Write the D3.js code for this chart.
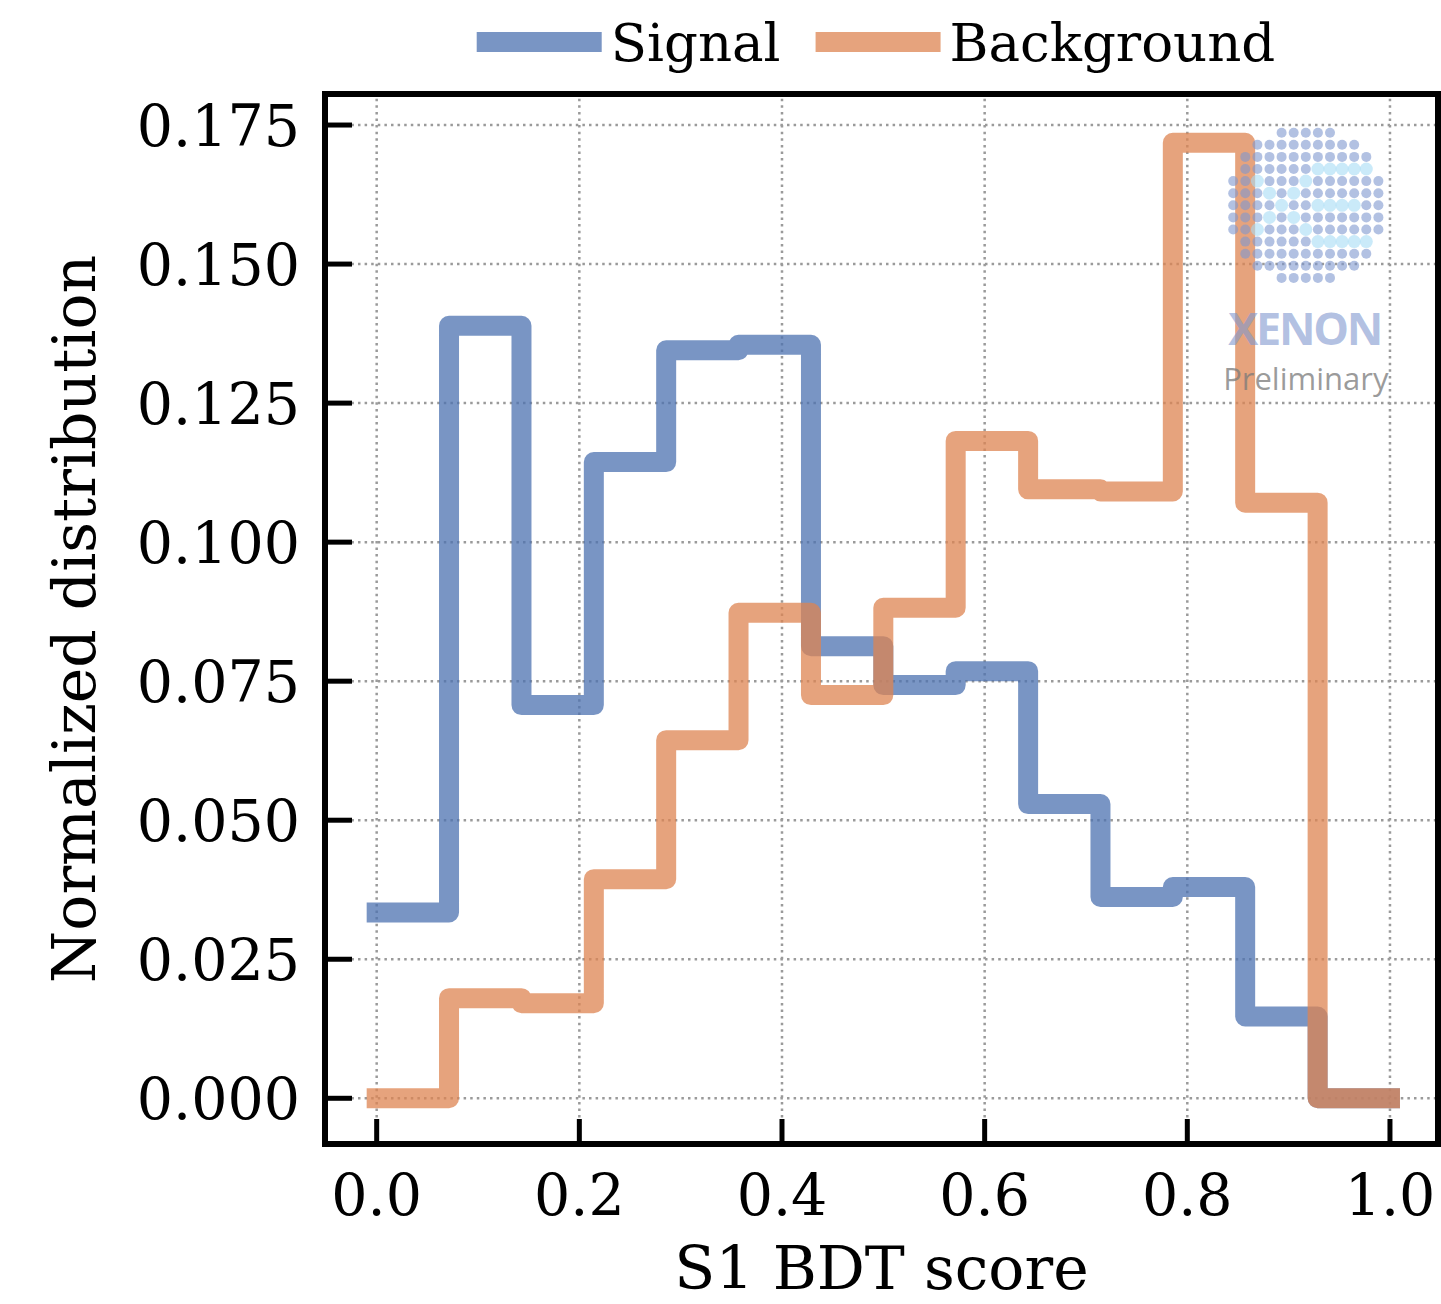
<!DOCTYPE html>
<meta charset="utf-8">
<script src="https://d3js.org/d3.v7.min.js"></script>
<style>
  body { margin: 0; background: #fff; }
  text { font-family: "DejaVu Serif", serif; fill: #000; }
</style>
<div id="my_dataviz"></div>
<script>

// histogram bin edges (14 bins over [0, 1])
var binEdges = [0, 0.0714, 0.1429, 0.2143, 0.2857, 0.3571, 0.4286, 0.5,
                0.5714, 0.6429, 0.7143, 0.7857, 0.8571, 0.9286, 1.0];

// normalized bin contents
var signalValues = [0.0334, 0.1389, 0.0707, 0.1144, 0.1345, 0.1355, 0.0813,
                    0.0743, 0.0768, 0.0529, 0.0362, 0.0380, 0.0147, 0.0];
var backgroundValues = [0.0, 0.0180, 0.0171, 0.0394, 0.0644, 0.0873, 0.0725,
                        0.0882, 0.1182, 0.1095, 0.1091, 0.1718, 0.1071, 0.0];

var seriesNames = ["Signal", "Background"];
var seriesColors = ["#4c72b0", "#dd8452"];

var xTicks = [0.0, 0.2, 0.4, 0.6, 0.8, 1.0];
var yTicks = [0.000, 0.025, 0.050, 0.075, 0.100, 0.125, 0.150, 0.175];

// set the dimensions and margins of the graph
var W = 1441, H = 1304;
var margin = {top: 94, right: 3, bottom: 160, left: 325},
  width = W - margin.left - margin.right,
  height = H - margin.top - margin.bottom;

var svg = d3.select("#my_dataviz")
  .append("svg")
    .attr("width", W)
    .attr("height", H);

var x = d3.scaleLinear()
  .domain([-0.051, 1.0474])
  .range([margin.left, margin.left + width]);

var y = d3.scaleLinear()
  .domain([-0.00822, 0.18058])
  .range([margin.top + height, margin.top]);

var tickFs = 57, labelFs = 60, legendFs = 53;

// dotted grid
var grid = svg.append("g")
  .attr("stroke", "#9a9a9a")
  .attr("stroke-width", 2.5)
  .attr("stroke-dasharray", "2.5 4.1");
grid.selectAll("line.gy").data(yTicks).enter().append("line")
  .attr("x1", x.range()[0]).attr("x2", x.range()[1])
  .attr("y1", function(d) { return y(d); }).attr("y2", function(d) { return y(d); });
grid.selectAll("line.gx").data(xTicks).enter().append("line")
  .attr("y1", y.range()[0]).attr("y2", y.range()[1])
  .attr("x1", function(d) { return x(d); }).attr("x2", function(d) { return x(d); });

// step histograms
function stepPoints(vals) {
  var pts = [];
  vals.forEach(function(v, i) {
    pts.push([binEdges[i], v]);
    pts.push([binEdges[i + 1], v]);
  });
  return pts;
}
var line = d3.line()
  .x(function(d) { return x(d[0]); })
  .y(function(d) { return y(d[1]); });

[signalValues, backgroundValues].forEach(function(vals, k) {
  svg.append("path")
    .attr("d", line(stepPoints(vals)))
    .attr("fill", "none")
    .attr("stroke", seriesColors[k])
    .attr("stroke-opacity", 0.75)
    .attr("stroke-width", 20)
    .attr("stroke-linecap", "square")
    .attr("stroke-linejoin", "round");
});

// XENON Preliminary watermark
var logo = svg.append("g").attr("transform", "translate(1305.8,205.3)");
var cyanCells = [[1,-3],[2,-3],[3,-3],[4,-3],[5,-3],[-4,-2],[0,-2],[-3,-1],[-1,-1],
                 [-2,0],[1,0],[2,0],[3,0],[4,0],[-3,1],[-1,1],[-4,2],[0,2],
                 [1,3],[2,3],[3,3],[4,3],[5,3]];
var cyanSet = {};
cyanCells.forEach(function(c) { cyanSet[c[0] + "," + c[1]] = true; });
var cells = [];
for (var r = -6; r <= 6; r++) {
  for (var c = -6; c <= 6; c++) {
    if (c * c + r * r <= 42) cells.push({c: c, r: r, cyan: !!cyanSet[c + "," + r]});
  }
}
logo.selectAll("circle").data(cells).enter().append("circle")
  .attr("cx", function(d) { return d.c * 12.1; })
  .attr("cy", function(d) { return d.r * 12.1; })
  .attr("r", function(d) { return d.cyan ? 6.5 : 5; })
  .attr("fill", function(d) { return d.cyan ? "#a6dcf5" : "#7f98cf"; })
  .attr("fill-opacity", 0.6);
logo.append("text")
  .attr("x", 0).attr("y", 140)
  .attr("text-anchor", "middle")
  .style("font-family", "'Open Sans', sans-serif")
  .style("font-weight", "bold")
  .style("font-size", "45px")
  .style("fill", "#7f98cf")
  .style("fill-opacity", 0.6)
  .attr("textLength", 155)
  .text("XENON");
logo.append("text")
  .attr("x", 0).attr("y", 185)
  .attr("text-anchor", "middle")
  .style("font-family", "'Open Sans', sans-serif")
  .style("font-size", "31px")
  .style("fill", "#7a7a7a")
  .style("fill-opacity", 0.75)
  .text("Preliminary");

// axes frame
svg.append("rect")
  .attr("x", margin.left).attr("y", margin.top)
  .attr("width", width).attr("height", height)
  .attr("fill", "none")
  .attr("stroke", "#000")
  .attr("stroke-width", 6);

// inward ticks
svg.selectAll("line.ytick").data(yTicks).enter().append("line")
  .attr("x1", margin.left).attr("x2", margin.left + 27)
  .attr("y1", function(d) { return y(d); }).attr("y2", function(d) { return y(d); })
  .attr("stroke", "#000").attr("stroke-width", 5);
svg.selectAll("line.xtick").data(xTicks).enter().append("line")
  .attr("y1", margin.top + height).attr("y2", margin.top + height - 25)
  .attr("x1", function(d) { return x(d); }).attr("x2", function(d) { return x(d); })
  .attr("stroke", "#000").attr("stroke-width", 5);

// tick labels
svg.selectAll("text.ylab").data(yTicks).enter().append("text")
  .attr("x", 300)
  .attr("y", function(d) { return y(d); })
  .attr("dy", "0.36em")
  .attr("text-anchor", "end")
  .style("font-size", tickFs + "px")
  .text(function(d) { return d3.format(".3f")(d); });
svg.selectAll("text.xlab").data(xTicks).enter().append("text")
  .attr("x", function(d) { return x(d); })
  .attr("y", 1215)
  .attr("text-anchor", "middle")
  .style("font-size", tickFs + "px")
  .text(function(d) { return d3.format(".1f")(d); });

// axis titles
svg.append("text")
  .attr("x", x.range()[0] + width / 2)
  .attr("y", 1289)
  .attr("text-anchor", "middle")
  .style("font-size", labelFs + "px")
  .text("S1 BDT score");
svg.append("text")
  .attr("transform", "translate(95," + (margin.top + height / 2) + ") rotate(-90)")
  .attr("text-anchor", "middle")
  .style("font-size", labelFs + "px")
  .text("Normalized distribution");

// legend above the axes
var legend = svg.append("g");
var cursor = 0, handleLen = 125, gapText = 9, gapCol = 35;
seriesNames.forEach(function(name, k) {
  legend.append("line")
    .attr("x1", cursor).attr("x2", cursor + handleLen)
    .attr("y1", 42).attr("y2", 42)
    .attr("stroke", seriesColors[k])
    .attr("stroke-opacity", 0.75)
    .attr("stroke-width", 20);
  var t = legend.append("text")
    .attr("x", cursor + handleLen + gapText)
    .attr("y", 61)
    .style("font-size", legendFs + "px")
    .text(name);
  cursor += handleLen + gapText + t.node().getComputedTextLength() + gapCol;
});
var legendWidth = cursor - gapCol;
legend.attr("transform", "translate(" + (876 - legendWidth / 2) + ",0)");

</script>
